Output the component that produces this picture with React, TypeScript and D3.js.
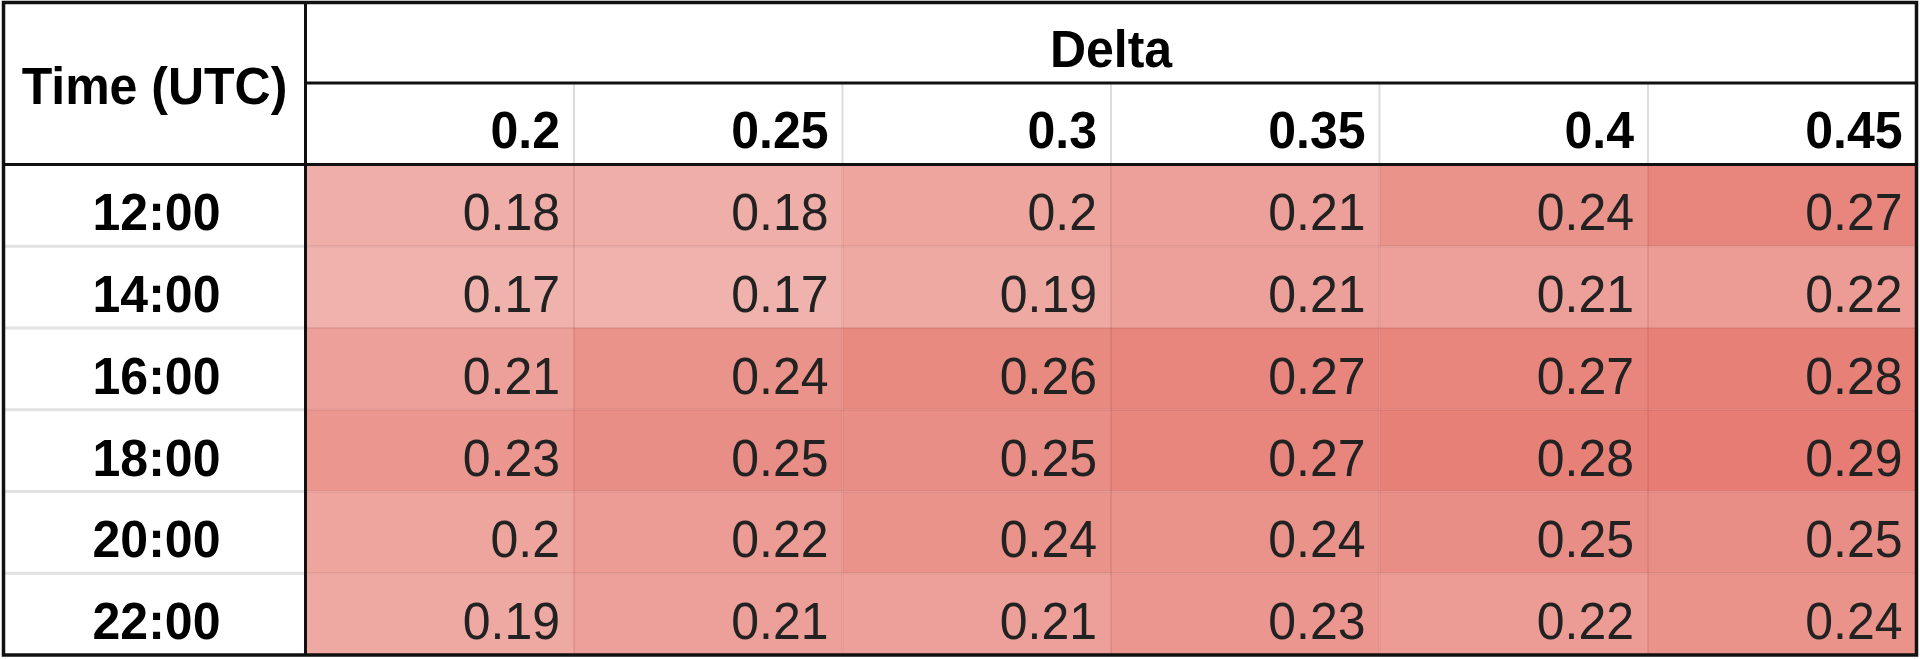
import React from "react";
import * as d3 from "d3";

const deltas: string[] = ["0.2", "0.25", "0.3", "0.35", "0.4", "0.45"];
const times: string[] = ["12:00", "14:00", "16:00", "18:00", "20:00", "22:00"];
const row1200: number[] = [0.18, 0.18, 0.2, 0.21, 0.24, 0.27];
const row1400: number[] = [0.17, 0.17, 0.19, 0.21, 0.21, 0.22];
const row1600: number[] = [0.21, 0.24, 0.26, 0.27, 0.27, 0.28];
const row1800: number[] = [0.23, 0.25, 0.25, 0.27, 0.28, 0.29];
const row2000: number[] = [0.2, 0.22, 0.24, 0.24, 0.25, 0.25];
const row2200: number[] = [0.19, 0.21, 0.21, 0.23, 0.22, 0.24];
const values: number[][] = [row1200, row1400, row1600, row1800, row2000, row2200];
const headerTitle = "Delta";
const rowTitle = "Time (UTC)";

const W = 1920;
const H = 659;
const FONT = "'Liberation Sans', Arial, Helvetica, sans-serif";

export default function App() {
  const left = 3.5;
  const right = 1916.5;
  const top = 2.5;
  const bottom = 655;
  const timeColRight = 305.5;
  const deltaLineY = 83;
  const headerBottom = 164.5;

  const x = d3.scaleBand<string>().domain(deltas).range([timeColRight, right]).padding(0);
  const y = d3.scaleBand<string>().domain(times).range([headerBottom, bottom]).padding(0);
  const maxV = d3.max(values.flat()) as number;
  const color = d3.scaleLinear<string>().domain([0, maxV]).range(["#ffffff", "#e67c73"]).interpolate(d3.interpolateRgb);

  const fs = 50;
  const sy = 1.04;
  const textT = (tx: number, ty: number) => `translate(${tx},${ty}) scale(1,${sy})`;

  return (
    <svg width={W} height={H} style={{ position: "absolute", left: 0, top: 0, display: "block", background: "#ffffff" }}>
      <rect x={0} y={0} width={W} height={H} fill="#ffffff" />
      {/* cells */}
      {times.map((t, i) =>
        deltas.map((d, j) => (
          <rect key={`c-${i}-${j}`} x={x(d)} y={y(t)} width={x.bandwidth()} height={y.bandwidth()} fill={color(values[i][j])} />
        ))
      )}
      {/* data grid lines */}
      {deltas.slice(1).map((d) => (
        <line key={`dv-${d}`} x1={x(d)} x2={x(d)} y1={headerBottom} y2={bottom} stroke="rgba(150,70,60,0.16)" strokeWidth={2} />
      ))}
      {times.slice(1).map((t) => (
        <line key={`dh-${t}`} x1={timeColRight} x2={right} y1={y(t)} y2={y(t)} stroke="rgba(150,70,60,0.16)" strokeWidth={2} />
      ))}
      {/* time column grid lines */}
      {times.slice(1).map((t) => (
        <line key={`th-${t}`} x1={left} x2={timeColRight} y1={y(t)} y2={y(t)} stroke="#e2e2e2" strokeWidth={3} />
      ))}
      {/* header sub-row vertical lines */}
      {deltas.slice(1).map((d) => (
        <line key={`hv-${d}`} x1={x(d)} x2={x(d)} y1={deltaLineY} y2={headerBottom} stroke="#dcdcdc" strokeWidth={2} />
      ))}
      {/* thick lines */}
      <line x1={timeColRight} x2={right} y1={deltaLineY} y2={deltaLineY} stroke="#111" strokeWidth={3} />
      <line x1={left} x2={right} y1={headerBottom} y2={headerBottom} stroke="#111" strokeWidth={3} />
      <line x1={timeColRight} x2={timeColRight} y1={top} y2={bottom} stroke="#111" strokeWidth={3} />
      <rect x={left} y={top} width={right - left} height={bottom - top} fill="none" stroke="#111" strokeWidth={3.5} />

      {/* header texts */}
      <text transform={textT((left + timeColRight) / 2, (top + headerBottom) / 2 + 20)} textAnchor="middle" fontFamily={FONT} fontWeight="bold" fontSize={fs} fill="#000">
        {rowTitle}
      </text>
      <text transform={textT((timeColRight + right) / 2, deltaLineY - 16)} textAnchor="middle" fontFamily={FONT} fontWeight="bold" fontSize={fs} fill="#000">
        {headerTitle}
      </text>
      {deltas.map((d) => (
        <text key={`h-${d}`} transform={textT((x(d) as number) + x.bandwidth() - 14, headerBottom - 17)} textAnchor="end" fontFamily={FONT} fontWeight="bold" fontSize={fs} fill="#000">
          {d}
        </text>
      ))}
      {/* row labels */}
      {times.map((t) => (
        <text key={`t-${t}`} transform={textT((left + timeColRight) / 2 + 2, (y(t) as number) + y.bandwidth() - 16)} textAnchor="middle" fontFamily={FONT} fontWeight="bold" fontSize={fs} fill="#000">
          {t}
        </text>
      ))}
      {/* values */}
      {times.map((t, i) =>
        deltas.map((d, j) => (
          <text key={`v-${i}-${j}`} transform={textT((x(d) as number) + x.bandwidth() - 14, (y(t) as number) + y.bandwidth() - 16)} textAnchor="end" fontFamily={FONT} fontSize={fs} fill="#222">
            {String(values[i][j])}
          </text>
        ))
      )}
    </svg>
  );
}
